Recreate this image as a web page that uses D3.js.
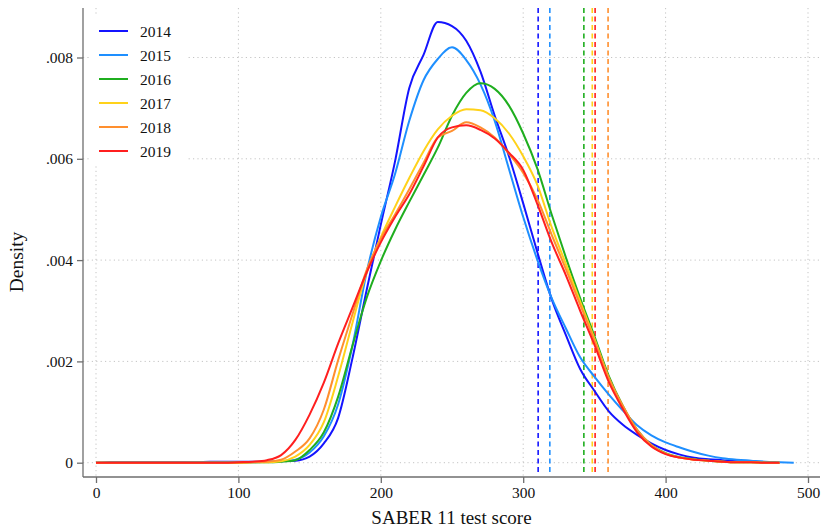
<!DOCTYPE html>
<html>
<head>
<meta charset="utf-8">
<script src="https://cdn.jsdelivr.net/npm/d3@7"></script>
<style>
  html, body { margin: 0; padding: 0; background: #fff; }
  svg { display: block; }
  text { font-family: "Liberation Serif", "Times New Roman", serif; fill: #111; }
</style>
</head>
<body>
<svg id="chart" width="824" height="529"></svg>
<script>
// ---------- data ----------
const years = ["2014", "2015", "2016", "2017", "2018", "2019"];
const colors = ["#1414ff", "#1e8fff", "#1fae1f", "#ffd21a", "#ff8f2e", "#ff1f1f"];
const scores = [0, 10, 20, 30, 40, 50, 60, 70, 80, 90, 100, 110, 120, 130, 140, 150, 160, 170, 180, 190,
                200, 210, 220, 230, 240, 250, 260, 270, 280, 290, 300, 310, 320, 330, 340, 350, 360, 370, 380, 390,
                400, 410, 420, 430, 440, 450, 460, 470, 480, 490];
// density values in units of 0.001 (null = beyond the end of the curve)
const dens2014 = [0.00, 0.01, 0.01, 0.01, 0.01, 0.01, 0.01, 0.01, 0.02, 0.02, 0.02, 0.02, 0.02, 0.03, 0.04, 0.12, 0.38, 0.88, 2.05, 3.40,
                  4.70, 5.95, 7.40, 8.05, 8.70, 8.62, 8.33, 7.72, 6.85, 6.05, 5.12, 4.15, 3.23, 2.52, 1.85, 1.42, 1.02, 0.75, 0.55, 0.38,
                  0.25, 0.16, 0.10, 0.07, 0.05, 0.03, 0.02, 0.01, null, null];
const dens2015 = [0.00, 0.00, 0.00, 0.00, 0.00, 0.00, 0.00, 0.01, 0.01, 0.01, 0.01, 0.01, 0.02, 0.03, 0.06, 0.20, 0.52, 1.15, 2.30, 3.75,
                  4.85, 5.70, 6.75, 7.55, 7.97, 8.20, 7.95, 7.47, 6.75, 5.80, 4.85, 4.00, 3.25, 2.65, 2.08, 1.70, 1.35, 1.03, 0.74, 0.54,
                  0.40, 0.30, 0.21, 0.14, 0.09, 0.06, 0.04, 0.02, 0.01, 0.00];
const dens2016 = [0.00, 0.00, 0.00, 0.00, 0.00, 0.00, 0.00, 0.00, 0.00, 0.00, 0.00, 0.01, 0.01, 0.02, 0.05, 0.25, 0.60, 1.30, 2.30, 3.25,
                  3.98, 4.60, 5.15, 5.68, 6.22, 6.85, 7.30, 7.49, 7.38, 7.05, 6.50, 5.80, 4.90, 4.05, 3.25, 2.50, 1.72, 1.12, 0.65, 0.35,
                  0.19, 0.11, 0.07, 0.04, 0.02, 0.01, 0.01, 0.00, 0.00, null];
const dens2017 = [0.00, 0.00, 0.00, 0.00, 0.00, 0.00, 0.00, 0.00, 0.00, 0.00, 0.00, 0.01, 0.01, 0.03, 0.12, 0.35, 0.80, 1.70, 2.75, 3.75,
                  4.45, 5.05, 5.62, 6.15, 6.58, 6.85, 6.98, 6.96, 6.80, 6.50, 6.05, 5.48, 4.65, 3.92, 3.18, 2.45, 1.68, 1.10, 0.63, 0.33,
                  0.18, 0.10, 0.06, 0.04, 0.02, 0.01, 0.01, 0.00, 0.00, null];
const dens2018 = [0.00, 0.00, 0.00, 0.00, 0.00, 0.00, 0.00, 0.00, 0.00, 0.00, 0.00, 0.01, 0.02, 0.06, 0.22, 0.48, 1.05, 2.02, 2.92, 3.80,
                  4.42, 4.90, 5.40, 5.92, 6.42, 6.55, 6.72, 6.62, 6.42, 6.10, 5.72, 5.20, 4.50, 3.82, 3.12, 2.42, 1.68, 1.12, 0.65, 0.35,
                  0.18, 0.10, 0.06, 0.04, 0.02, 0.01, 0.01, 0.00, 0.00, null];
const dens2019 = [0.00, 0.00, 0.00, 0.00, 0.00, 0.00, 0.00, 0.00, 0.00, 0.00, 0.01, 0.02, 0.05, 0.15, 0.45, 0.95, 1.58, 2.35, 3.05, 3.75,
                  4.35, 4.85, 5.30, 5.85, 6.42, 6.62, 6.66, 6.57, 6.40, 6.12, 5.78, 5.10, 4.35, 3.70, 3.00, 2.33, 1.60, 1.06, 0.60, 0.32,
                  0.17, 0.10, 0.06, 0.04, 0.02, 0.01, 0.01, 0.00, 0.00, null];
const means = [310.5, 318.7, 342.6, 348.5, 359.6, 350.5];
const xTicks = [0, 100, 200, 300, 400, 500];
const yTicks = [0, 0.002, 0.004, 0.006, 0.008];
const yTickLabels = ["0", ".002", ".004", ".006", ".008"];

const series = [dens2014, dens2015, dens2016, dens2017, dens2018, dens2019];

// ---------- layout ----------
const svg = d3.select("#chart");
const x = d3.scaleLinear().domain([0, 500]).range([96, 808]);
const y = d3.scaleLinear().domain([0, 0.008]).range([462.7, 57.5]);
const pLeft = 83, pRight = 820, pTop = 8, pBottom = 477;

// grid
const grid = svg.append("g").attr("stroke", "#c4c4c4").attr("stroke-width", 1).attr("stroke-dasharray", "1.2,3.2");
grid.selectAll("line.h").data(yTicks).join("line").attr("class", "h")
  .attr("x1", pLeft).attr("x2", pRight).attr("y1", d => y(d)).attr("y2", d => y(d));
grid.selectAll("line.v").data(xTicks).join("line").attr("class", "v")
  .attr("y1", pTop).attr("y2", pBottom).attr("x1", d => x(d)).attr("x2", d => x(d));

// mean lines
svg.append("g").selectAll("line").data(means).join("line")
  .attr("x1", d => x(d)).attr("x2", d => x(d))
  .attr("y1", pTop).attr("y2", 473)
  .attr("stroke", (d, i) => colors[i])
  .attr("stroke-width", 1.6)
  .attr("stroke-dasharray", "5,3.5");

// curves
const line = d3.line()
  .defined(d => d[1] !== null)
  .x(d => x(d[0]))
  .y(d => y(d[1] / 1000))
  .curve(d3.curveMonotoneX);

series.forEach((s, i) => {
  const pts = scores.map((sc, j) => [sc, s[j]]);
  svg.append("path")
    .datum(pts)
    .attr("fill", "none")
    .attr("stroke", colors[i])
    .attr("stroke-width", 2)
    .attr("stroke-linejoin", "round")
    .attr("d", line);
});

// legend
const lg = svg.append("g");
lg.append("rect").attr("x", 89).attr("y", 14).attr("width", 97).attr("height", 152).attr("fill", "#fff");
years.forEach((yr, i) => {
  const yy = 31 + 24 * i;
  lg.append("line").attr("x1", 99).attr("x2", 128).attr("y1", yy).attr("y2", yy)
    .attr("stroke", colors[i]).attr("stroke-width", 2);
  lg.append("text").attr("x", 140).attr("y", yy + 5.5).attr("font-size", 15.5).text(yr);
});

// axes
const axisColor = "#6e6e6e";
svg.append("line").attr("x1", pLeft).attr("x2", pLeft).attr("y1", pTop).attr("y2", pBottom)
  .attr("stroke", axisColor).attr("stroke-width", 1.3);
svg.append("line").attr("x1", pLeft).attr("x2", pRight).attr("y1", pBottom).attr("y2", pBottom)
  .attr("stroke", axisColor).attr("stroke-width", 1.3);

const xAxis = d3.axisBottom(x).tickValues(xTicks).tickSize(6).tickPadding(4).tickFormat(d3.format("d"));
const gx = svg.append("g").attr("transform", `translate(0,${pBottom})`).call(xAxis);
gx.select(".domain").remove();
gx.selectAll(".tick line").attr("stroke", axisColor).attr("stroke-width", 1.3);
gx.selectAll(".tick text").attr("font-size", 15.5).attr("font-family", "Liberation Serif, serif").attr("fill", "#111");

const yAxis = d3.axisLeft(y).tickValues(yTicks).tickSize(6).tickPadding(4).tickFormat((d, i) => yTickLabels[i]);
const gy = svg.append("g").attr("transform", `translate(${pLeft},0)`).call(yAxis);
gy.select(".domain").remove();
gy.selectAll(".tick line").attr("stroke", axisColor).attr("stroke-width", 1.3);
gy.selectAll(".tick text").attr("font-size", 15.5).attr("font-family", "Liberation Serif, serif").attr("fill", "#111");

// axis titles
svg.append("text").attr("x", (pLeft + pRight) / 2).attr("y", 524).attr("text-anchor", "middle")
  .attr("font-size", 19).text("SABER 11 test score");
svg.append("text").attr("transform", "translate(23,262) rotate(-90)").attr("text-anchor", "middle")
  .attr("font-size", 19.5).text("Density");
</script>
</body>
</html>
